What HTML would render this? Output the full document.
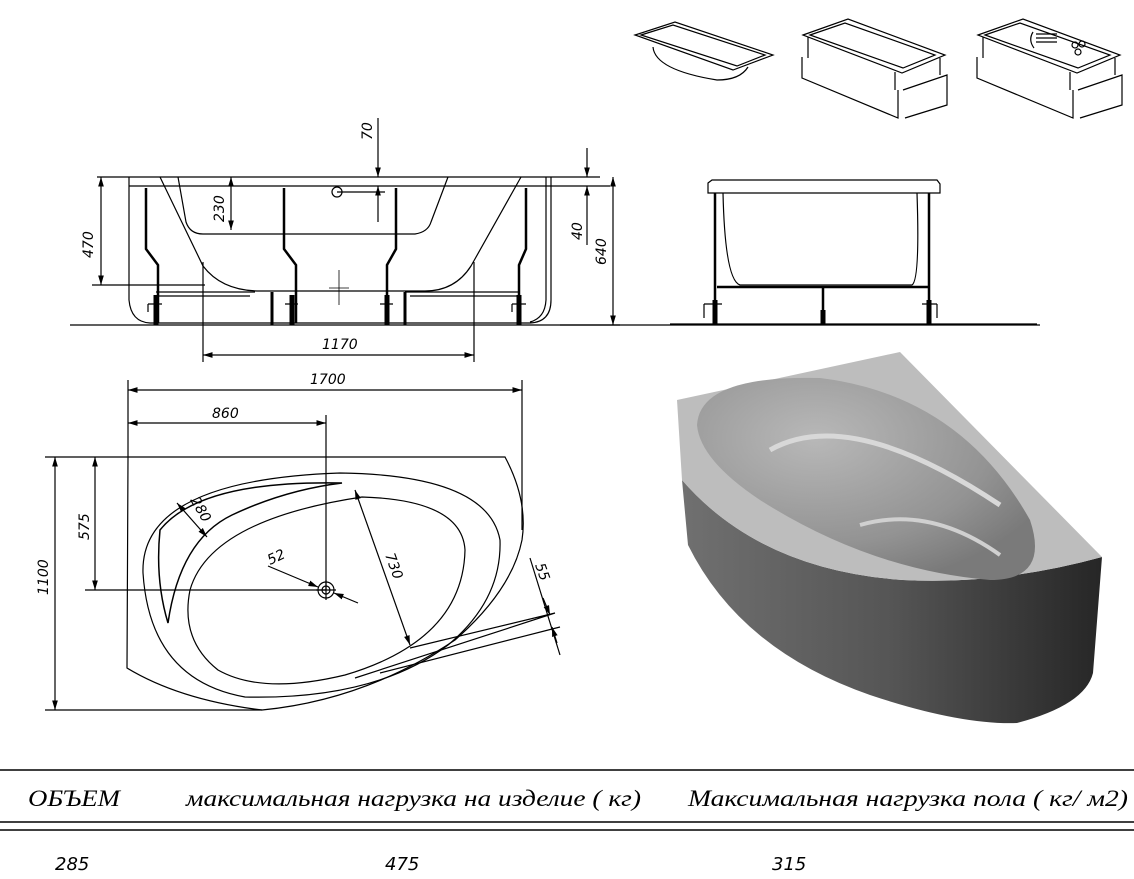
<!DOCTYPE html>
<html><head><meta charset="utf-8"><style>
html,body{margin:0;padding:0;background:#fff}
svg{display:block}
.t{font-family:"DejaVu Sans","Liberation Sans",sans-serif;font-style:italic;font-size:14px;fill:#000}
.h{font-family:"Liberation Serif",serif;font-style:italic;font-size:23px;fill:#000}
</style></head><body>
<svg width="1134" height="879" viewBox="0 0 1134 879" xmlns="http://www.w3.org/2000/svg">
<defs>
<marker id="a" viewBox="0 0 10 10" refX="10" refY="5" markerWidth="8" markerHeight="8" orient="auto-start-reverse"><path d="M0,2L10,5L0,8z" fill="#000"/></marker>
<linearGradient id="side" x1="0" x2="1" y1="0" y2="0"><stop offset="0" stop-color="#707070"/><stop offset="0.5" stop-color="#555"/><stop offset="1" stop-color="#262626"/></linearGradient>
<radialGradient id="basin" cx="0.35" cy="0.3" r="0.75"><stop offset="0" stop-color="#b8b8b8"/><stop offset="0.7" stop-color="#939393"/><stop offset="1" stop-color="#7a7a7a"/></radialGradient>
</defs>
<g fill="none" stroke="#000" stroke-width="1.2">
<!-- small icons -->
<path d="M635,35L675,22L773,55L733,70z M641,35L673,25L765,55L737,66z M653,47Q655,70 717,80Q740,80 748,67"/>
<path d="M803,35L848,19L945,55L902,73z M810,35L845,23L935,55L903,68z M802,57V78L898,118V90 M903,90L947,75V105L905,118 M808,37V58 M895,72V90 M940,58V75" />
<path d="M978,35L1023,19L1120,55L1077,73z M985,35L1020,23L1110,55L1078,68z M977,57V78L1073,118V90 M1078,90L1122,75V105L1080,118 M983,37V58 M1070,72V90 M1115,58V75"/>
<path d="M1033,32Q1028,40 1034,48 M1036,34H1057M1036,38H1057M1036,42H1057"/>
<circle cx="1075" cy="45" r="3"/><circle cx="1082" cy="44" r="3"/><circle cx="1078" cy="52" r="3"/>
<!-- front elevation -->
<line x1="70" y1="325" x2="1040" y2="325"/>
<path d="M129,177H600 M129,186H610"/>
<path d="M129,177V300Q131,322 150,323H530Q551,322 551,300V177 M546,177V300Q545,318 530,322"/>
<path d="M160,177L203,266Q222,291 260,291H425Q455,291 471,266L521,177"/>
<path d="M178,177L186,222Q190,234 203,234H415Q428,232 431,222L448,177"/>
<path d="M146,188V249L158,265V323 M284,188V249L296,265V323 M396,188V249L387,265V323 M526,188V249L519,265V323" stroke-width="2.5"/>
<path d="M156,295V325 M292,295V325 M387,295V325 M519,295V325" stroke-width="5"/>
<path d="M272,292V325 M405,292V325" stroke-width="3"/>
<path d="M156,292H255 M405,292H519 M156,296H250 M410,296H519"/>
<path d="M148,304H162M285,304H298M380,304H393M512,304H526 M148,304V312M512,304V312"/>
<path d="M339,270V305 M329,288H349" stroke-width="0.8"/>
<circle cx="337" cy="192" r="5"/><line x1="337" y1="192" x2="385" y2="192"/>
<line x1="97" y1="177" x2="129" y2="177"/><line x1="92" y1="285" x2="205" y2="285"/>
<line x1="101" y1="177" x2="101" y2="285" marker-start="url(#a)" marker-end="url(#a)"/>
<line x1="231" y1="177" x2="231" y2="230" marker-start="url(#a)" marker-end="url(#a)"/>
<line x1="378" y1="118" x2="378" y2="177" marker-end="url(#a)"/><line x1="378" y1="222" x2="378" y2="186" marker-end="url(#a)"/>
<line x1="587" y1="148" x2="587" y2="177" marker-end="url(#a)"/><line x1="587" y1="245" x2="587" y2="186" marker-end="url(#a)"/>
<line x1="613" y1="177" x2="613" y2="325" marker-start="url(#a)" marker-end="url(#a)"/>
<line x1="560" y1="325" x2="620" y2="325"/>
<line x1="203" y1="262" x2="203" y2="362"/><line x1="474" y1="262" x2="474" y2="362"/>
<line x1="203" y1="355" x2="474" y2="355" marker-start="url(#a)" marker-end="url(#a)"/>
<!-- side elevation -->
<path d="M708,183L712,180H937L940,184V193H708z"/>
<path d="M723,193Q725,280 740,285H912Q920,280 917,193"/>
<path d="M715,193V324 M929,193V324 M717,287H929 M823,287V324" stroke-width="2.5"/>
<path d="M715,300V325 M929,300V325 M823,310V325" stroke-width="5"/>
<path d="M704,304H722M922,304H937M704,304V318M937,304V318"/>
<line x1="670" y1="324" x2="1037" y2="324"/>
<!-- plan -->
<path d="M128,457L505,457Q528,500 522,540Q512,590 455,640Q365,700 262,710Q180,700 127,668Z"/>
<path d="M340,473Q488,475 500,540Q502,600 448,645Q375,700 245,697Q150,680 143,573Q140,480 340,473Z"/>
<path d="M362,497Q462,500 465,550Q463,640 345,675Q262,695 218,670Q180,640 190,590Q210,520 362,497Z"/>
<path d="M342,483Q200,480 160,530Q155,580 168,623Q180,540 232,515Q285,490 342,483Z" stroke-width="1.5"/>
<circle cx="326" cy="590" r="8"/><circle cx="326" cy="590" r="4"/><path d="M316,590H336M326,580V600"/>
<line x1="128" y1="380" x2="128" y2="457"/><line x1="522" y1="380" x2="522" y2="530"/><line x1="326" y1="415" x2="326" y2="590"/>
<line x1="128" y1="390" x2="522" y2="390" marker-start="url(#a)" marker-end="url(#a)"/>
<line x1="128" y1="423" x2="326" y2="423" marker-start="url(#a)" marker-end="url(#a)"/>
<line x1="45" y1="457" x2="128" y2="457"/><line x1="45" y1="710" x2="262" y2="710"/>
<line x1="55" y1="457" x2="55" y2="710" marker-start="url(#a)" marker-end="url(#a)"/>
<line x1="85" y1="590" x2="326" y2="590"/>
<line x1="95" y1="457" x2="95" y2="590" marker-start="url(#a)" marker-end="url(#a)"/>
<line x1="355" y1="490" x2="410" y2="645" marker-start="url(#a)" marker-end="url(#a)"/>
<line x1="268" y1="566" x2="318" y2="587" marker-end="url(#a)"/><line x1="358" y1="603" x2="334" y2="593" marker-end="url(#a)"/>
<line x1="177" y1="503" x2="207" y2="537" marker-start="url(#a)" marker-end="url(#a)"/>
<path d="M410,648L555,613 M380,673L560,627 M355,678L555,613"/>
<line x1="530" y1="558" x2="560" y2="655"/>
<line x1="543" y1="598" x2="550" y2="615" marker-end="url(#a)"/><line x1="557" y1="643" x2="552" y2="627" marker-end="url(#a)"/>
</g>
<g class="t">
<text transform="translate(93,258) rotate(-90)">470</text>
<text transform="translate(224,222) rotate(-90)">230</text>
<text transform="translate(372,140) rotate(-90)">70</text>
<text transform="translate(582,240) rotate(-90)">40</text>
<text transform="translate(606,265) rotate(-90)">640</text>
<text x="322" y="349">1170</text>
<text x="310" y="384">1700</text>
<text x="212" y="418">860</text>
<text transform="translate(48,595) rotate(-90)">1100</text>
<text transform="translate(89,540) rotate(-90)">575</text>
<text transform="translate(190,500) rotate(60)">280</text>
<text transform="translate(270,565) rotate(-25)">52</text>
<text transform="translate(385,555) rotate(70)">730</text>
<text transform="translate(535,565) rotate(70)">55</text>
</g>
<!-- 3D render -->
<path d="M682,480L688,545Q740,650 870,695Q960,725 1017,723Q1085,705 1093,673L1102,557Q1000,585 903,580Q760,570 682,480Z" fill="url(#side)"/>
<path d="M677,400L900,352L1102,557Q1000,585 903,580Q760,570 682,480Z" fill="#bdbdbd"/>
<path d="M697,425Q700,375 820,378Q960,395 1030,520Q1050,580 990,580Q870,570 760,500Q700,460 697,425Z" fill="url(#basin)"/>
<path d="M770,450Q850,405 1000,505" stroke="#d8d8d8" stroke-width="5" fill="none"/>
<path d="M860,525Q930,505 1000,555" stroke="#d0d0d0" stroke-width="4" fill="none"/>
<!-- table -->
<line x1="0" y1="770" x2="1134" y2="770" stroke="#000" stroke-width="1.5"/>
<line x1="0" y1="822" x2="1134" y2="822" stroke="#000" stroke-width="1.5"/>
<line x1="0" y1="830" x2="1134" y2="830" stroke="#000" stroke-width="1.5"/>
<text class="h" x="28" y="806" textLength="92" lengthAdjust="spacingAndGlyphs">ОБЪЕМ</text>
<text class="h" x="186" y="806" textLength="455" lengthAdjust="spacingAndGlyphs">максимальная нагрузка на изделие ( кг)</text>
<text class="h" x="688" y="806" textLength="440" lengthAdjust="spacingAndGlyphs">Максимальная нагрузка пола ( кг/ м2)</text>
<text class="t" x="55" y="870" style="font-size:18px">285</text>
<text class="t" x="385" y="870" style="font-size:18px">475</text>
<text class="t" x="772" y="870" style="font-size:18px">315</text>
</svg>
</body></html>
